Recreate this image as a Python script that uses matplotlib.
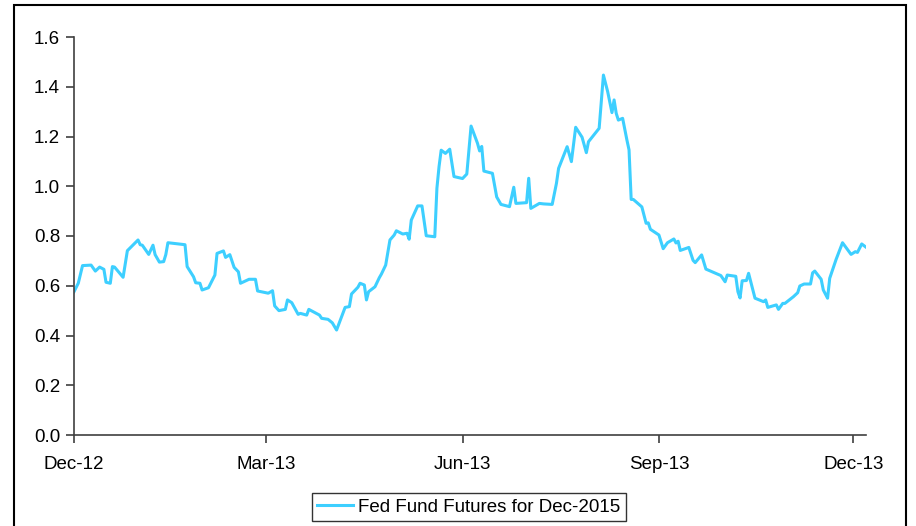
import matplotlib
matplotlib.use('Agg')
import matplotlib.pyplot as plt
import matplotlib.dates as mdates
import pandas as pd
from matplotlib.patches import Rectangle
from matplotlib.ticker import FormatStrFormatter

plt.rcParams['font.family'] = ['Liberation Sans', 'DejaVu Sans']

# days since 1 Dec 2012
days = [0, 2, 4, 8, 10, 12, 14, 15, 17, 18, 19, 23, 25, 30, 31, 32, 35, 37, 38, 40,
        42, 43, 44, 52, 53, 56, 57, 59, 60, 63, 66, 67, 70, 71, 73, 75, 77, 78, 82, 85,
        86, 91, 93, 94, 96, 99, 100, 102, 105, 106, 109, 110, 115, 116, 119, 121, 123, 127, 129, 130,
        133, 134, 136, 137, 138, 141, 143, 144, 146, 148, 150, 151, 154, 156, 157, 158, 161, 163, 165, 169,
        170, 171, 172, 174, 176, 178, 182, 184, 186, 189, 190, 191, 192, 196, 198, 200, 204, 206, 207, 212,
        213, 214, 218, 220, 224, 226, 227, 231, 233, 235, 238, 240, 241, 246, 248, 250, 252, 253, 254, 255,
        257, 259, 260, 261, 262, 266, 268, 269, 270, 274, 276, 278, 281, 282, 283, 284, 288, 290, 291, 294,
        296, 299, 303, 305, 306, 310, 311, 312, 313, 315, 316, 319, 323, 324, 325, 329, 330, 332, 333, 337,
        339, 340, 342, 345, 346, 347, 350, 351, 353, 354, 357, 360, 364, 366, 367, 369, 371]
values = [0.576, 0.610, 0.681, 0.683, 0.659, 0.675, 0.666, 0.614, 0.610, 0.677, 0.675, 0.634, 0.741, 0.784, 0.765, 0.763, 0.726, 0.763, 0.725, 0.695,
          0.697, 0.725, 0.773, 0.765, 0.677, 0.636, 0.612, 0.610, 0.583, 0.592, 0.643, 0.730, 0.740, 0.714, 0.725, 0.674, 0.656, 0.610, 0.626, 0.626,
          0.579, 0.570, 0.580, 0.519, 0.500, 0.505, 0.543, 0.532, 0.485, 0.489, 0.482, 0.505, 0.482, 0.469, 0.465, 0.451, 0.422, 0.513, 0.516, 0.567,
          0.594, 0.610, 0.603, 0.543, 0.576, 0.596, 0.632, 0.647, 0.683, 0.784, 0.804, 0.821, 0.808, 0.811, 0.787, 0.864, 0.921, 0.921, 0.801, 0.797,
          0.992, 1.079, 1.145, 1.132, 1.149, 1.039, 1.031, 1.049, 1.242, 1.173, 1.142, 1.160, 1.061, 1.052, 0.957, 0.927, 0.918, 0.996, 0.931, 0.934,
          1.032, 0.911, 0.931, 0.929, 0.927, 1.012, 1.072, 1.159, 1.099, 1.237, 1.197, 1.135, 1.179, 1.233, 1.447, 1.380, 1.296, 1.347, 1.293, 1.266,
          1.273, 1.186, 1.146, 0.947, 0.947, 0.917, 0.851, 0.853, 0.827, 0.804, 0.749, 0.773, 0.788, 0.772, 0.779, 0.742, 0.754, 0.702, 0.693, 0.724,
          0.667, 0.656, 0.641, 0.616, 0.643, 0.638, 0.576, 0.551, 0.620, 0.621, 0.650, 0.550, 0.536, 0.543, 0.513, 0.523, 0.505, 0.529, 0.529, 0.556,
          0.572, 0.599, 0.607, 0.607, 0.652, 0.659, 0.626, 0.583, 0.550, 0.630, 0.706, 0.773, 0.726, 0.737, 0.734, 0.768, 0.755]
series_label = 'Fed Fund Futures for Dec-2015'
tick_dates = ['2012-12-01', '2013-03-01', '2013-06-01', '2013-09-01', '2013-12-01']

start = pd.Timestamp('2012-12-01')
dates = start + pd.to_timedelta(days, unit='D')

fig = plt.figure(figsize=(9.16, 5.26), dpi=100)
ax = fig.add_axes([74/916, 1-435/526, (866-74)/916, (435-37)/526])

ax.plot(dates, values, color='#3DCFFF', lw=2.2, label=series_label)

ax.set_ylim(0, 1.6)
ax.set_yticks([0, 0.2, 0.4, 0.6, 0.8, 1.0, 1.2, 1.4, 1.6])
ax.yaxis.set_major_formatter(FormatStrFormatter('%.1f'))
ax.set_xlim(start, start + pd.Timedelta(days=371))
ax.set_xticks(pd.to_datetime(tick_dates))
ax.xaxis.set_major_formatter(mdates.DateFormatter('%b-%y'))

for s in ['top', 'right']:
    ax.spines[s].set_visible(False)
for s in ['left', 'bottom']:
    ax.spines[s].set_color('#404040')
    ax.spines[s].set_linewidth(1.2)
ax.tick_params(axis='both', colors='#404040', labelcolor='black', labelsize=13.5, length=6, width=1.2)
ax.tick_params(axis='x', pad=9)
ax.tick_params(axis='y', pad=4)

leg = fig.legend(loc='center', bbox_to_anchor=(469/916, 1-507/526), frameon=True, fancybox=False,
                 fontsize=13.5, handlelength=1.9, handletextpad=0.3, borderpad=0.3)
leg.get_frame().set_edgecolor('black')
leg.get_frame().set_linewidth(1.0)

# outer chart border
fig.patches.append(Rectangle((14/916, -0.05), (906-14)/916, 1.05 - 5/526, transform=fig.transFigure,
                             fill=False, edgecolor='black', linewidth=1.5))

fig.savefig('out.png', dpi=100)
